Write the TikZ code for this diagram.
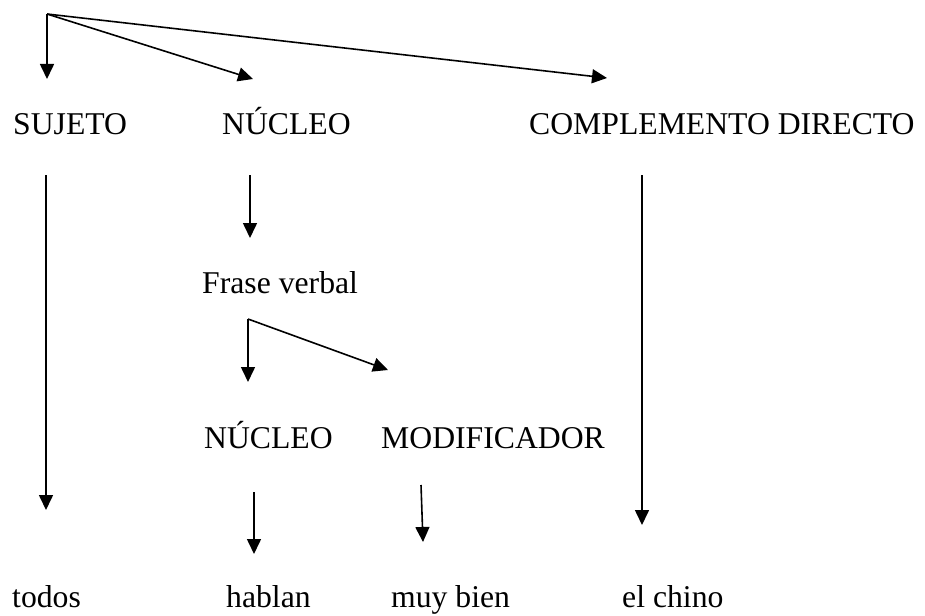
\documentclass[tikz,border=0pt]{standalone}
\usepackage{fontspec}
\setmainfont{Liberation Serif}
\usetikzlibrary{arrows.meta}
\begin{document}
\begin{tikzpicture}[x=1pt,y=-1pt,
  lbl/.style={font=\fontsize{31.7}{36}\selectfont, inner sep=0pt, anchor=base west},
  arr/.style={line width=1.6pt, -{Triangle[length=15pt,width=14pt]}},
  ln/.style={line width=1.6pt}]
\useasboundingbox (0,0) rectangle (925,615);
% texts
\node[lbl] (suj) at (13,135) {SUJETO};
\node[lbl] (nuc1) at (222,135) {NÚCLEO};
\node[lbl] (cd) at (529,135) {COMPLEMENTO DIRECTO};
\node[lbl] (fv) at (202,293) {Frase verbal};
\node[lbl] (nuc2) at (204,448) {NÚCLEO};
\node[lbl] (mod) at (381,448) {MODIFICADOR};
\node[lbl] (tod) at (12,607) {todos};
\node[lbl] (hab) at (226,607) {hablan};
\node[lbl] (muy) at (391,607) {muy bien};
\node[lbl] (chi) at (622,607) {el chino};
% coordinates
\coordinate (o) at (47,14);
\coordinate (o1) at (47,18);
\coordinate (t1) at (47,79);
\coordinate (t2) at (253,79);
\coordinate (t3) at (607,78);
\coordinate (s1) at (46,175);
\coordinate (s2) at (46,510);
\coordinate (n1) at (250,175);
\coordinate (n2) at (250,238);
\coordinate (c1) at (642,175);
\coordinate (c2) at (642,525);
\coordinate (f0) at (248,319);
\coordinate (f1) at (248,382);
\coordinate (f2) at (388,370);
\coordinate (h1) at (254,492);
\coordinate (h2) at (254,554);
\coordinate (m1) at (421,485);
\coordinate (m2) at (423,542);
% arrows
\draw[arr] (o1) -- (t1);
\draw[arr] (o) -- (t2);
\draw[arr] (o) -- (t3);
\draw[ln] (o) -- (o1);
\draw[arr] (s1) -- (s2);
\draw[arr] (n1) -- (n2);
\draw[arr] (c1) -- (c2);
\draw[arr] (f0) -- (f1);
\draw[arr] (f0) -- (f2);
\draw[arr] (h1) -- (h2);
\draw[arr] (m1) -- (m2);
\end{tikzpicture}
\end{document}
